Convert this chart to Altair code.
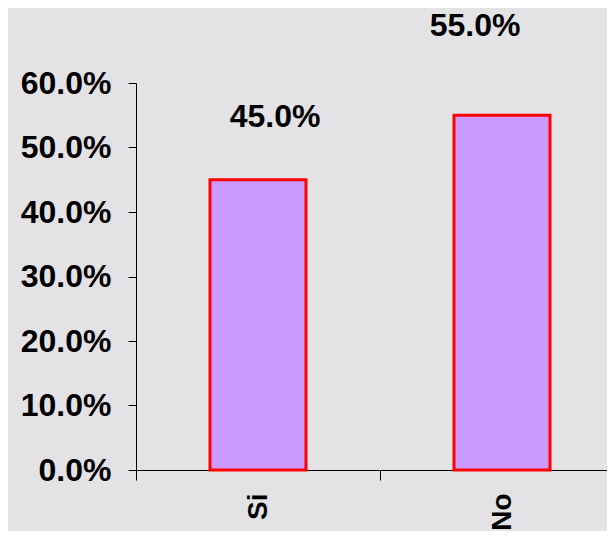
import altair as alt
import pandas as pd

categories = ["Si", "No"]
values = [0.45, 0.55]

df = pd.DataFrame({"cat": categories, "val": values})

FONT = "Liberation Sans"

base = alt.Chart(df)

x = alt.X("cat:N", sort=categories, title=None,
          scale=alt.Scale(range=[0, 488], paddingInner=0, paddingOuter=0),
          axis=alt.Axis(labelAngle=-90, labelFontSize=28, labelFontWeight="bold",
                        labelFont=FONT, labelColor="black", domainColor="black",
                        tickColor="black", tickSize=10, labelPadding=13,
                        tickBand="extent", domainWidth=1))
y = alt.Y("val:Q", title=None,
          scale=alt.Scale(domain=[0, 0.6], nice=False),
          axis=alt.Axis(format=".1%", values=[0, 0.1, 0.2, 0.3, 0.4, 0.5, 0.6],
                        labelFontSize=32, labelFontWeight="bold", labelFont=FONT,
                        labelColor="black", domainColor="black", tickColor="black",
                        tickSize=8, labelPadding=17, grid=False, domainWidth=1))

bars = base.mark_bar(color="#CC99FF", stroke="#FF0000", strokeWidth=3, size=96).encode(
    x=x, y=y)

def label(cat, dx, dy):
    return base.transform_filter(alt.datum.cat == cat).mark_text(
        font=FONT, fontSize=32, fontWeight="bold", color="black",
        baseline="middle", align="center", dx=dx, dy=dy).encode(
        x=alt.X("cat:N", sort=categories),
        y=alt.Y("val:Q"),
        text=alt.Text("val:Q", format=".1%"))

chart = alt.layer(bars, label("Si", 17, -63), label("No", -27, -89)).properties(
    width=471, height=387,
    autosize=alt.AutoSizeParams(type="none"),
    padding={"left": 128, "top": 75, "right": 0, "bottom": 61},
    background="#e3e3e5",
).configure_view(stroke=None)

chart.save("out.html", embed_options={"renderer": "svg", "actions": False})
